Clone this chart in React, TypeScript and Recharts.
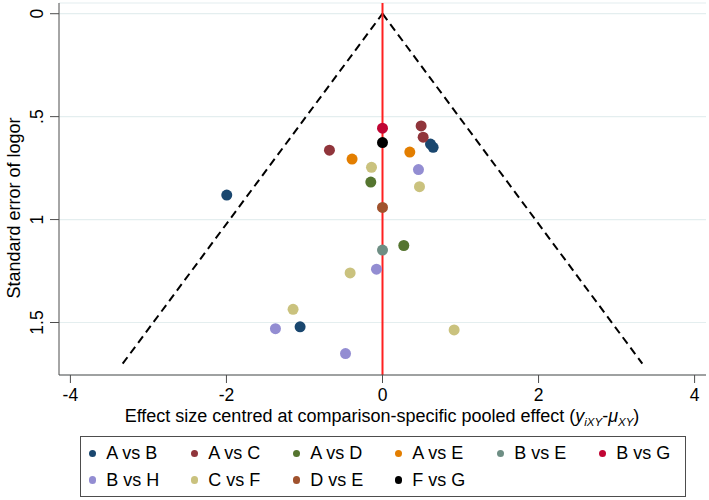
import { ScatterChart, Scatter, XAxis, YAxis, CartesianGrid, ReferenceLine } from 'recharts';

// comparisons shown in the legend, in order
const comparisons = ['A vs B', 'A vs C', 'A vs D', 'A vs E', 'B vs E', 'B vs G', 'B vs H', 'C vs F', 'D vs E', 'F vs G'];
const colors = ['#1a476f', '#90353b', '#55752f', '#e37e00', '#6e8e84', '#c10534', '#938dd2', '#cac27e', '#a0522d', '#000000'];

// centred effect (x) and standard error (y) per comparison
const abEffect = [0.615, 0.649, -1.996, -1.056];
const abSE = [0.633, 0.649, 0.881, 1.521];
const acEffect = [0.495, 0.521, -0.68];
const acSE = [0.545, 0.6, 0.663];
const adEffect = [-0.15, 0.273];
const adSE = [0.818, 1.126];
const aeEffect = [-0.39, 0.35];
const aeSE = [0.706, 0.672];
const beEffect = [0];
const beSE = [1.148];
const bgEffect = [0];
const bgSE = [0.556];
const bhEffect = [0.461, -0.077, -1.372, -0.474];
const bhSE = [0.757, 1.241, 1.53, 1.651];
const cfEffect = [-0.141, 0.474, -0.415, -1.146, 0.918];
const cfSE = [0.746, 0.84, 1.259, 1.436, 1.536];
const deEffect = [0];
const deSE = [0.941];
const fgEffect = [0];
const fgSE = [0.626];

const effects = [abEffect, acEffect, adEffect, aeEffect, beEffect, bgEffect, bhEffect, cfEffect, deEffect, fgEffect];
const ses = [abSE, acSE, adSE, aeSE, beSE, bgSE, bhSE, cfSE, deSE, fgSE];

// pseudo 95% limits: apex at 0, out to se 1.7
const funnelSE = [0, 1.7];
const funnelHalfWidth = [0, 3.33];

const xTicks = [-4, -2, 0, 2, 4];
const yTicks = [0, 0.5, 1, 1.5];
const yTickLabels = ['0', '.5', '1', '1.5'];

const font = '"Liberation Sans", Arial, sans-serif';
const axisColor = '#4d4d4d';

const series = comparisons.map((name, i) => ({
    name,
    color: colors[i],
    data: effects[i].map((x, j) => ({ x, y: ses[i][j] })),
}));

const Dot = (props: any) => <circle cx={props.cx} cy={props.cy} r={5.5} fill={props.fill} />;

const YTick = ({ y, payload }: any) => {
    const i = yTicks.indexOf(payload.value);
    return (
        <text
            x={37}
            y={y}
            transform={`rotate(-90 37 ${y})`}
            textAnchor="middle"
            dominantBaseline="central"
            fontSize={17.5}
            fontFamily={font}
            fill="#000"
        >
            {yTickLabels[i]}
        </text>
    );
};

const XTick = ({ x, payload }: any) => (
    <text x={x} y={400.5} textAnchor="middle" fontSize={17.5} fontFamily={font} fill="#000">
        {payload.value}
    </text>
);

export default function App() {
    return (
        <div style={{ position: 'absolute', left: 0, top: 0, width: 709, height: 500, background: '#fff' }}>
            <ScatterChart width={709} height={500} margin={{ top: 3, right: 3, left: 0, bottom: 85 }}>
                <CartesianGrid horizontal vertical={false} stroke="#e4eeef" strokeWidth={1.2} />
                <XAxis
                    type="number"
                    dataKey="x"
                    domain={[-4.146, 4.146]}
                    ticks={xTicks}
                    allowDataOverflow
                    height={40}
                    stroke={axisColor}
                    tickSize={8}
                    tick={<XTick />}
                />
                <YAxis
                    type="number"
                    dataKey="y"
                    domain={[-0.052, 1.755]}
                    ticks={yTicks}
                    reversed
                    allowDataOverflow
                    width={59}
                    stroke={axisColor}
                    tickSize={9}
                    tick={<YTick />}
                />
                <ReferenceLine
                    segment={[
                        { x: -funnelHalfWidth[1], y: funnelSE[1] },
                        { x: funnelHalfWidth[0], y: funnelSE[0] },
                    ]}
                    stroke="#000"
                    strokeWidth={2}
                    strokeDasharray="8 5"
                />
                <ReferenceLine
                    segment={[
                        { x: funnelHalfWidth[0], y: funnelSE[0] },
                        { x: funnelHalfWidth[1], y: funnelSE[1] },
                    ]}
                    stroke="#000"
                    strokeWidth={2}
                    strokeDasharray="8 5"
                />
                <ReferenceLine x={0} stroke="#ff2020" strokeWidth={2} />
                {series.map((s) => (
                    <Scatter
                        key={s.name}
                        name={s.name}
                        data={s.data}
                        fill={s.color}
                        shape={<Dot />}
                        isAnimationActive={false}
                    />
                ))}
                <text
                    x={14}
                    y={208}
                    transform="rotate(-90 14 208)"
                    textAnchor="middle"
                    dominantBaseline="central"
                    fontSize={18}
                    fontFamily={font}
                    fill="#000"
                >
                    Standard error of logor
                </text>
                <text x={382} y={422} textAnchor="middle" fontSize={18} fontFamily={font} fill="#000">
                    Effect size centred at comparison-specific pooled effect (
                    <tspan fontStyle="italic">y</tspan>
                    <tspan fontStyle="italic" fontSize={11.5} dy={4}>iXY</tspan>
                    <tspan dy={-4}>-</tspan>
                    <tspan fontStyle="italic">μ</tspan>
                    <tspan fontStyle="italic" fontSize={11.5} dy={4}>XY</tspan>
                    <tspan dy={-4}>)</tspan>
                </text>
            </ScatterChart>
            <div
                style={{
                    position: 'absolute',
                    left: 80,
                    top: 436,
                    width: 606,
                    height: 61,
                    boxSizing: 'border-box',
                    border: `1px solid ${axisColor}`,
                    padding: '3px 0 0 8px',
                    display: 'grid',
                    gridTemplateColumns: 'repeat(6, 102px)',
                    gridAutoRows: '26.7px',
                    fontFamily: font,
                    fontSize: 18,
                }}
            >
                {series.map((s) => (
                    <div key={s.name} style={{ display: 'flex', alignItems: 'center', whiteSpace: 'nowrap' }}>
                        <span
                            style={{
                                display: 'inline-block',
                                width: 7.4,
                                height: 7.4,
                                borderRadius: '50%',
                                background: s.color,
                                marginRight: 9.8,
                                flexShrink: 0,
                            }}
                        />
                        {s.name}
                    </div>
                ))}
            </div>
        </div>
    );
}
